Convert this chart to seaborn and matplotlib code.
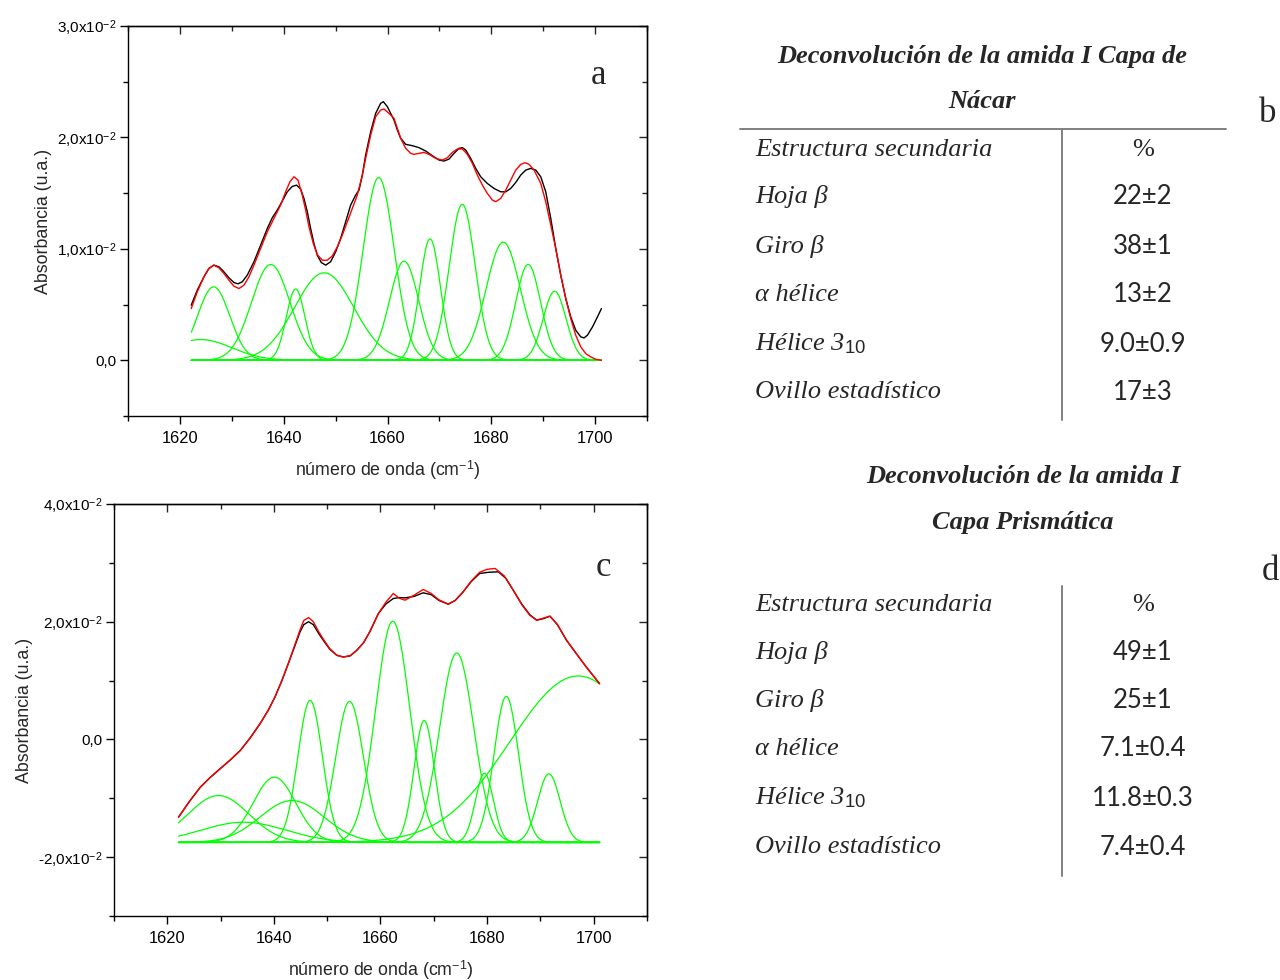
import numpy as np
import pandas as pd
import matplotlib
matplotlib.use("Agg")
import matplotlib.pyplot as plt
from matplotlib.ticker import MultipleLocator, FixedLocator, FixedFormatter
import seaborn as sns

# ---------------- Panel a: amida I, capa de nácar (absorbance in 1e-2 units) ----------------
a_wn_measured = [1622.18, 1623.34, 1624.63, 1625.59, 1626.55, 1627.52, 1628.48, 1629.45, 1630.41,
                 1631.18, 1632.02, 1632.98, 1634.27, 1635.55, 1636.84, 1637.80, 1638.76, 1639.73,
                 1640.69, 1641.65, 1642.49, 1643.26, 1643.90, 1644.55, 1645.19, 1645.83, 1646.47,
                 1647.24, 1648.08, 1649.04, 1650.01, 1650.97, 1651.94, 1652.90, 1653.86, 1654.51,
                 1655.15, 1655.79, 1656.76, 1657.72, 1658.68, 1659.20, 1659.97, 1661.25, 1661.90,
                 1662.54, 1663.50, 1664.79, 1666.07, 1667.36, 1668.64, 1669.93, 1670.89, 1671.86,
                 1672.82, 1673.78, 1674.43, 1675.07, 1676.03, 1677.00, 1677.96, 1679.24, 1680.53,
                 1681.82, 1682.78, 1683.74, 1684.71, 1685.67, 1686.63, 1687.60, 1688.56, 1689.53,
                 1690.49, 1691.46, 1692.42, 1693.38, 1694.35, 1695.31, 1696.27, 1697.24, 1697.88,
                 1698.52, 1699.49, 1700.45, 1701.22]
a_measured = [0.494, 0.629, 0.749, 0.824, 0.854, 0.839, 0.794, 0.740, 0.698,
              0.686, 0.704, 0.764, 0.884, 1.033, 1.183, 1.279, 1.348, 1.429,
              1.512, 1.560, 1.572, 1.536, 1.453, 1.333, 1.183, 1.048, 0.943,
              0.877, 0.854, 0.884, 0.973, 1.093, 1.243, 1.393, 1.482, 1.527,
              1.662, 1.842, 2.051, 2.216, 2.306, 2.321, 2.276, 2.156, 2.066,
              1.992, 1.938, 1.926, 1.908, 1.878, 1.836, 1.797, 1.788, 1.806,
              1.857, 1.902, 1.908, 1.887, 1.812, 1.722, 1.647, 1.587, 1.542,
              1.512, 1.512, 1.542, 1.596, 1.662, 1.707, 1.722, 1.707, 1.647,
              1.512, 1.273, 1.003, 0.764, 0.554, 0.389, 0.270, 0.210, 0.201,
              0.225, 0.299, 0.389, 0.464]

a_wn_fit = [1622.18, 1623.34, 1624.63, 1625.59, 1626.55, 1627.52, 1628.48, 1629.45, 1630.41,
            1631.37, 1632.34, 1633.30, 1634.27, 1635.55, 1636.84, 1638.12, 1639.41, 1640.37,
            1641.20, 1641.98, 1642.75, 1643.58, 1644.23, 1644.87, 1645.70, 1646.47, 1647.44,
            1648.40, 1649.37, 1650.33, 1651.29, 1652.26, 1653.22, 1654.18, 1655.15, 1655.79,
            1656.76, 1657.72, 1658.68, 1659.33, 1660.29, 1661.25, 1661.90, 1662.54, 1663.50,
            1664.47, 1665.11, 1666.07, 1667.04, 1668.00, 1669.29, 1670.57, 1671.53, 1672.50,
            1673.46, 1674.43, 1675.39, 1676.35, 1677.32, 1678.28, 1679.24, 1680.21, 1680.85,
            1681.82, 1682.78, 1683.74, 1684.71, 1685.67, 1686.51, 1687.28, 1688.24, 1689.53,
            1690.49, 1691.46, 1692.42, 1693.38, 1694.35, 1695.31, 1696.27, 1697.24, 1698.20,
            1699.17, 1700.13, 1701.22]
a_fit = [0.464, 0.614, 0.749, 0.824, 0.854, 0.830, 0.779, 0.719, 0.665,
         0.644, 0.674, 0.749, 0.854, 1.003, 1.153, 1.273, 1.393, 1.512,
         1.602, 1.647, 1.617, 1.482, 1.348, 1.198, 1.048, 0.949, 0.898,
         0.898, 0.937, 1.018, 1.123, 1.243, 1.363, 1.482, 1.662, 1.812,
         2.022, 2.186, 2.246, 2.255, 2.216, 2.171, 2.081, 1.992, 1.902,
         1.857, 1.848, 1.857, 1.866, 1.848, 1.812, 1.797, 1.818, 1.866,
         1.896, 1.896, 1.848, 1.767, 1.662, 1.572, 1.497, 1.438, 1.423,
         1.453, 1.527, 1.617, 1.707, 1.758, 1.773, 1.758, 1.707, 1.587,
         1.423, 1.213, 1.003, 0.764, 0.554, 0.374, 0.225, 0.120, 0.060,
         0.030, 0.009, 0.000]

# Gaussian components of the deconvolution: centre (cm-1), height, sigma (cm-1)
a_centers = [1624.0, 1626.5, 1637.5, 1642.3, 1647.8, 1658.3, 1663.2, 1668.2, 1674.4, 1682.3, 1687.1, 1692.2]
a_heights = [0.186, 0.659, 0.860, 0.640, 0.785, 1.640, 0.890, 1.090, 1.400, 1.060, 0.860, 0.620]
a_sigmas = [6.0, 3.1, 3.7, 1.8, 5.7, 3.0, 2.8, 2.0, 2.5, 3.3, 2.4, 2.2]
a_baseline = 0.0
a_range = (1622.2, 1701.2)

# ---------------- Panel c: amida I, capa prismática ----------------
c_wn_measured = [1622.1, 1624.1, 1626.2, 1628.0, 1629.9, 1631.8, 1633.7, 1635.5, 1637.4,
                 1638.9, 1640.2, 1641.5, 1642.7, 1643.9, 1644.9, 1645.6, 1646.5, 1647.4,
                 1648.4, 1649.3, 1650.5, 1651.8, 1653.0, 1654.3, 1655.5, 1656.8, 1658.0,
                 1659.6, 1661.0, 1662.4, 1663.5, 1664.6, 1666.3, 1668.0, 1669.5, 1671.0,
                 1672.7, 1674.0, 1675.5, 1677.0, 1678.6, 1680.3, 1682.1, 1683.5, 1684.9,
                 1686.5, 1688.0, 1689.3, 1690.5, 1691.8, 1693.2, 1694.9, 1696.8, 1698.6, 1701.1]
c_measured = [-1.322, -1.060, -0.811, -0.650, -0.499, -0.350, -0.187, 0.020, 0.267,
              0.490, 0.720, 1.000, 1.288, 1.580, 1.826, 1.950, 2.000, 1.950,
              1.800, 1.680, 1.530, 1.430, 1.401, 1.420, 1.510, 1.640, 1.830,
              2.139, 2.300, 2.394, 2.410, 2.405, 2.430, 2.491, 2.460, 2.360,
              2.298, 2.360, 2.507, 2.680, 2.820, 2.840, 2.848, 2.740, 2.536,
              2.300, 2.120, 2.026, 2.050, 2.094, 1.950, 1.685, 1.450, 1.231, 0.948]

c_wn_fit = [1622.1, 1624.1, 1626.2, 1628.0, 1629.9, 1631.8, 1633.7, 1635.5, 1637.4,
            1638.9, 1640.2, 1641.5, 1642.7, 1643.9, 1644.9, 1645.6, 1646.5, 1647.4,
            1648.4, 1649.3, 1650.5, 1651.8, 1653.0, 1654.3, 1655.5, 1656.8, 1658.0,
            1659.6, 1661.0, 1662.4, 1663.5, 1664.6, 1666.3, 1668.0, 1669.5, 1671.0,
            1672.7, 1674.0, 1675.5, 1677.0, 1678.6, 1680.0, 1681.5, 1683.2, 1684.9,
            1686.5, 1688.0, 1689.3, 1690.5, 1691.8, 1693.2, 1694.9, 1696.8, 1698.6, 1701.1]
c_fit = [-1.322, -1.060, -0.811, -0.650, -0.499, -0.350, -0.187, 0.020, 0.267,
         0.490, 0.720, 1.000, 1.288, 1.600, 1.860, 2.020, 2.071, 2.000,
         1.830, 1.700, 1.540, 1.430, 1.401, 1.420, 1.510, 1.640, 1.830,
         2.139, 2.330, 2.480, 2.400, 2.366, 2.450, 2.548, 2.480, 2.370,
         2.298, 2.360, 2.507, 2.690, 2.840, 2.890, 2.905, 2.780, 2.536,
         2.290, 2.110, 2.026, 2.060, 2.094, 1.950, 1.685, 1.450, 1.231, 0.948]

c_centers = [1629.6, 1634.3, 1640.1, 1643.4, 1646.8, 1654.2, 1662.3, 1668.2, 1674.3, 1679.5, 1683.6, 1691.6, 1697.1]
c_heights = [0.797, 0.343, 1.109, 0.712, 2.414, 2.397, 3.759, 2.073, 3.219, 1.177, 2.482, 1.166, 2.828]
c_sigmas = [5.7, 8.0, 4.0, 6.0, 2.3, 2.6, 3.2, 1.9, 3.2, 1.7, 2.3, 2.1, 12.8]
c_baseline = -1.75
c_range = (1622.1, 1701.1)

# ---------------- Axis ticks ----------------
x_ticks = [1620, 1640, 1660, 1680, 1700]
x_ticklabels = ["1620", "1640", "1660", "1680", "1700"]
a_yticks = [0.0, 1.0, 2.0, 3.0]
a_yticklabels = ["0,0", "1,0x10$^{-2}$", "2,0x10$^{-2}$", "3,0x10$^{-2}$"]
c_yticks = [-2.0, 0.0, 2.0, 4.0]
c_yticklabels = ["-2,0x10$^{-2}$", "0,0", "2,0x10$^{-2}$", "4,0x10$^{-2}$"]

# ---------------- Tables ----------------
row_labels = ["Estructura secundaria", "Hoja β", "Giro β", "α hélice",
              "Hélice 3$_{\\mathit{10}}$", "Ovillo estadístico"]
b_values = ["%", "22±2", "38±1", "13±2", "9.0±0.9", "17±3"]
d_values = ["%", "49±1", "25±1", "7.1±0.4", "11.8±0.3", "7.4±0.4"]
b_title = ["Deconvolución de la amida I Capa de", "Nácar"]
d_title = ["Deconvolución de la amida I", "Capa Prismática"]

sns.set_style("ticks")
plt.rcParams["font.family"] = ["Liberation Sans", "DejaVu Sans"]
plt.rcParams["mathtext.fontset"] = "custom"
plt.rcParams["mathtext.rm"] = "Liberation Sans"
plt.rcParams["mathtext.it"] = "Liberation Serif:italic"
plt.rcParams["axes.linewidth"] = 1.0

W, H = 1280, 980
fig = plt.figure(figsize=(W / 100, H / 100), dpi=100)


def px(x, y):
    return x / W, 1 - y / H


def components_frame(centers, heights, sigmas, baseline, span):
    grid = np.linspace(span[0], span[1], 500)
    frames = []
    for i, (c, h, s) in enumerate(zip(centers, heights, sigmas)):
        frames.append(pd.DataFrame({
            "wavenumber": grid,
            "absorbance": (baseline + h * np.exp(-0.5 * ((grid - c) / s) ** 2)) * 1e-2,
            "component": i,
        }))
    return pd.concat(frames, ignore_index=True)


def draw_panel(ax, wn_meas, meas, wn_fit, fit, centers, heights, sigmas, baseline, span,
               ylim, yticks, yticklabels, yminor):
    comp = components_frame(centers, heights, sigmas, baseline, span)
    sns.lineplot(data=comp, x="wavenumber", y="absorbance", units="component",
                 estimator=None, color="#00ff00", lw=0.9, sort=False, legend=False, ax=ax)
    sns.lineplot(x=np.array(wn_meas), y=np.array(meas) * 1e-2, color="black", lw=1.0,
                 sort=False, legend=False, ax=ax)
    sns.lineplot(x=np.array(wn_fit), y=np.array(fit) * 1e-2, color="red", lw=1.0,
                 sort=False, legend=False, ax=ax)
    ax.set_xlim(1610, 1710)
    ax.set_ylim(ylim[0] * 1e-2, ylim[1] * 1e-2)
    ax.xaxis.set_major_locator(FixedLocator(x_ticks))
    ax.xaxis.set_major_formatter(FixedFormatter(x_ticklabels))
    ax.xaxis.set_minor_locator(MultipleLocator(10))
    ax.yaxis.set_major_locator(FixedLocator([v * 1e-2 for v in yticks]))
    ax.yaxis.set_major_formatter(FixedFormatter(yticklabels))
    ax.yaxis.set_minor_locator(MultipleLocator(yminor * 1e-2))
    ax.tick_params(which="both", direction="out", top=False, right=False,
                   width=1.0, color="black", labelcolor="black")
    ax.tick_params(axis="x", labelsize=11.8, pad=5)
    ax.tick_params(axis="y", labelsize=11, pad=2)
    ax.tick_params(which="major", length=6)
    ax.tick_params(which="minor", length=3.5)
    for sp in ax.spines.values():
        sp.set_visible(True)
        sp.set_color("black")
        sp.set_linewidth(1.0)
    top = ax.secondary_xaxis("top")
    top.xaxis.set_major_locator(FixedLocator(x_ticks))
    top.xaxis.set_minor_locator(MultipleLocator(10))
    top.tick_params(which="both", direction="in", labeltop=False, width=1.0)
    top.tick_params(which="major", length=6)
    top.tick_params(which="minor", length=3.5)
    right = ax.secondary_yaxis("right")
    right.yaxis.set_major_locator(FixedLocator([v * 1e-2 for v in yticks]))
    right.yaxis.set_minor_locator(MultipleLocator(yminor * 1e-2))
    right.tick_params(which="both", direction="in", labelright=False, width=1.0)
    right.tick_params(which="major", length=6)
    right.tick_params(which="minor", length=3.5)
    ax.set_xlabel("número de onda (cm$^{-1}$)", fontsize=12.8, labelpad=9)
    ax.set_ylabel("Absorbancia (u.a.)", fontsize=12.8, labelpad=4)


ax_a = fig.add_axes([128 / W, 1 - 416 / H, 519 / W, 390 / H])
draw_panel(ax_a, a_wn_measured, a_measured, a_wn_fit, a_fit, a_centers, a_heights, a_sigmas,
           a_baseline, a_range, (-0.5, 3.0), a_yticks, a_yticklabels, 0.5)

ax_c = fig.add_axes([114 / W, 1 - 916 / H, 533 / W, 412 / H])
draw_panel(ax_c, c_wn_measured, c_measured, c_wn_fit, c_fit, c_centers, c_heights, c_sigmas,
           c_baseline, c_range, (-3.0, 4.0), c_yticks, c_yticklabels, 1.0)

serif = ["Liberation Serif", "DejaVu Serif"]
fig.text(*px(598, 75), "a", fontsize=25, family=serif, ha="center", va="center")
fig.text(*px(603, 567), "c", fontsize=25, family=serif, ha="center", va="center")
fig.text(*px(1268, 114), "b", fontsize=25, family=serif, ha="center", va="center")
fig.text(*px(1270, 571), "d", fontsize=25, family=serif, ha="center", va="center")


def draw_table(title_lines, title_x, title_ys, row_ys, values, line_top, line_bottom, hline):
    for line, ty in zip(title_lines, title_ys):
        fig.text(*px(title_x, ty + 2), line, fontsize=19, family=serif, weight="bold",
                 style="italic", ha="center", va="center")
    for i, (lab, val, ry) in enumerate(zip(row_labels, values, row_ys)):
        fig.text(*px(755, ry + 3), lab, fontsize=19, family=serif, style="italic",
                 ha="left", va="center")
        fam = serif if i == 0 else ["Lato", "DejaVu Sans"]
        fig.text(*px(1143, ry + 3), val, fontsize=18.5 if i else 19, family=fam,
                 ha="center", va="center")
    fig.add_artist(plt.Line2D([1062 / W, 1062 / W], [1 - line_top / H, 1 - line_bottom / H],
                              color="#808080", lw=1.4))
    if hline is not None:
        fig.add_artist(plt.Line2D([740 / W, 1226 / W], [1 - hline / H, 1 - hline / H],
                                  color="#808080", lw=1.4))


draw_table(b_title, 982, [54, 99], [147, 194, 243, 292, 341, 389], b_values, 129, 420, 129)
draw_table(d_title, 1023, [474, 520], [602, 649, 697, 746, 795, 844], d_values, 586, 876, None)

fig.savefig("out.png", dpi=100)
